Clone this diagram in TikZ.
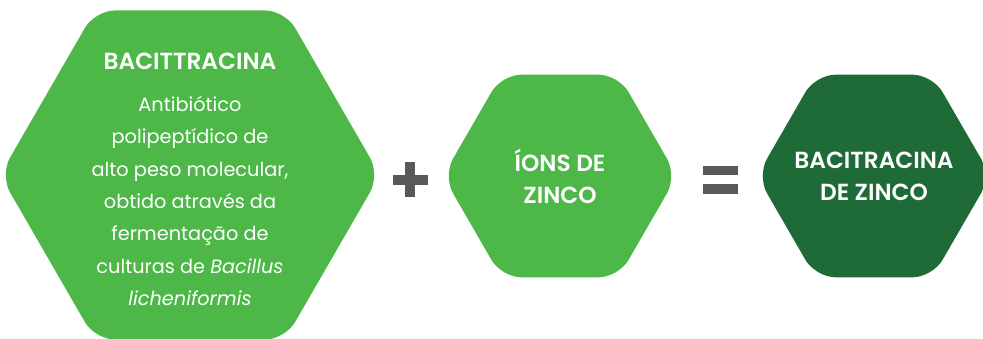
\documentclass[tikz,border=0pt]{standalone}
\usepackage{fontspec}
\setmainfont{Poppins}
\newfontfamily\headfont{Poppins SemiBold}
\usetikzlibrary{shapes.geometric}

\definecolor{lightgreen}{HTML}{4DB848}
\definecolor{darkgreen}{HTML}{1E6B38}
\definecolor{opgray}{HTML}{58595B}

\tikzset{
  hexagon/.style={regular polygon, regular polygon sides=6, inner sep=0pt, rounded corners=20pt},
  bar/.style={fill=opgray, inner sep=0pt},
  title/.style={text=white, font=\headfont\fontsize{23.3}{32}\selectfont, align=center},
  body/.style={text=white, font=\fontsize{19.3}{32.3}\selectfont, align=center},
}

\begin{document}
\begin{tikzpicture}[x=1pt,y=1pt]
  \useasboundingbox (0,0) rectangle (983,339);

  \node[hexagon, fill=lightgreen, minimum size=380pt] (hex-bac)    at (190,164) {};
  \node[hexagon, fill=lightgreen, minimum size=234pt] (hex-zinc)   at (560,163) {};
  \node[hexagon, fill=darkgreen,  minimum size=234pt] (hex-result) at (874,163) {};

  \node[title] (bac-title) at (190,278) {BACITTRACINA};
  \node[body]  (bac-text)  at (190,138) {Antibiótico\\ polipeptídico de\\ alto peso molecular,\\ obtido através da\\ fermentação de\\ culturas de \textit{Bacillus}\\ \textit{licheniformis}};
  \node[title] (zinc-text)   at (560,162.5) {ÍONS DE\\ ZINCO};
  \node[title] (result-text) at (874,163) {BACITRACINA\\ DE ZINCO};

  % operators
  \node[bar, minimum width=35pt, minimum height=10pt] (plus-h) at (410,159) {};
  \node[bar, minimum width=10pt, minimum height=35pt] (plus-v) at (plus-h) {};
  \node[bar, minimum width=35pt, minimum height=9pt]  (eq-top) at (720,168.5) {};
  \node[bar, minimum width=35pt, minimum height=10pt] (eq-bot) at (720,150) {};
\end{tikzpicture}
\end{document}
